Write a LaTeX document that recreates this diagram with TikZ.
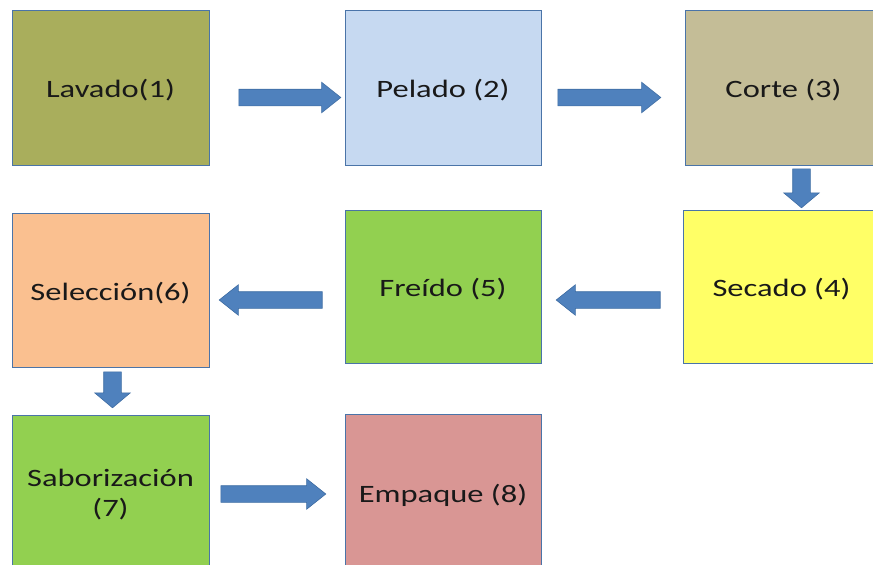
\documentclass[tikz,border=0pt]{standalone}
\usepackage{fontspec}
\setmainfont{Carlito}
\usetikzlibrary{shapes.arrows,positioning}
\definecolor{boxline}{HTML}{4A74A8}
\definecolor{arrowfill}{HTML}{4F81BD}
\definecolor{arrowline}{HTML}{3F6DA3}
\definecolor{cLav}{HTML}{A9AE5C}
\definecolor{cPel}{HTML}{C6D9F1}
\definecolor{cCor}{HTML}{C4BD97}
\definecolor{cSec}{HTML}{FFFF66}
\definecolor{cFre}{HTML}{92D050}
\definecolor{cSel}{HTML}{FAC090}
\definecolor{cSab}{HTML}{92D050}
\definecolor{cEmp}{HTML}{D99694}
% wide, slightly lowered label text
\newcommand\widetext[1]{\raisebox{-3pt}[\height][\depth]{\scalebox{1.3}[1]{#1}}}
\tikzset{
  stage/.style={draw=boxline, line width=1pt, minimum width=197pt, minimum height=155pt,
    inner sep=0pt, text=black!90, font=\fontsize{25}{31}\selectfont},
  flowbase/.style={single arrow, draw=arrowline, fill=arrowfill, line width=0.6pt,
    text height=0pt, text depth=0pt},
  hflow/.style={flowbase, inner xsep=0pt, inner ysep=8pt, minimum width=30pt,
    single arrow head extend=7pt, single arrow tip angle=77},
  vflow/.style={flowbase, inner ysep=0pt, inner xsep=8.5pt, minimum width=35pt,
    single arrow head extend=9pt, single arrow tip angle=100},
}
\begin{document}
\begin{tikzpicture}[x=1pt, y=-1pt]
\useasboundingbox (0,0) rectangle (873,565);
\begin{scope}
\clip (0,0) rectangle (873,565);
% first row
\node[stage, fill=cLav] (lav) at (110.5,87.5) {\widetext{Lavado(1)}};
\node[stage, fill=cPel, minimum width=196pt] (pel) at (443,87.5) {\widetext{Pelado (2)}};
\node[stage, fill=cCor] (cor) at (783.5,87.5) {\widetext{Corte (3)}};
% second row
\node[stage, fill=cSec, minimum height=153pt] (sec) at (781.5,286.5) {\widetext{Secado (4)}};
\node[stage, fill=cFre, minimum width=196pt, minimum height=153pt] (fre) at (443,286.5) {\widetext{Freído (5)}};
\node[stage, fill=cSel, minimum height=154pt] (sel) at (110.5,290) {\widetext{Selección(6)}};
% third row
\node[stage, fill=cSab] (sab) at (110.5,492.5)
  {\widetext{\begin{tabular}{@{}c@{}}Saborización\\[-1pt](7)\end{tabular}}};
\node[stage, fill=cEmp, minimum width=196pt, minimum height=156pt] (emp) at (443,492) {\widetext{Empaque (8)}};

% flow arrows between the stages
\node[hflow, minimum height=102pt, anchor=tail] (a12) at ([xshift=29pt, yshift=-10pt]lav.east) {};
\node[hflow, minimum height=103pt, anchor=tail] (a23) at ([xshift=16pt, yshift=-10pt]pel.east) {};
\node[vflow, minimum height=39pt, shape border rotate=270, anchor=tail] (a34) at ([xshift=18pt, yshift=-3pt]cor.south) {};
\node[hflow, minimum height=104pt, shape border rotate=180, anchor=tail] (a45) at ([xshift=-22pt, yshift=-13.5pt]sec.west) {};
\node[hflow, minimum height=103pt, shape border rotate=180, anchor=tail] (a56) at ([xshift=-22pt, yshift=-13.5pt]fre.west) {};
\node[vflow, minimum height=36pt, shape border rotate=270, anchor=tail] (a67) at ([xshift=2pt, yshift=-4pt]sel.south) {};
\node[hflow, minimum height=105pt, anchor=tail] (a78) at ([xshift=11pt, yshift=-1.5pt]sab.east) {};
\end{scope}
\end{tikzpicture}
\end{document}
